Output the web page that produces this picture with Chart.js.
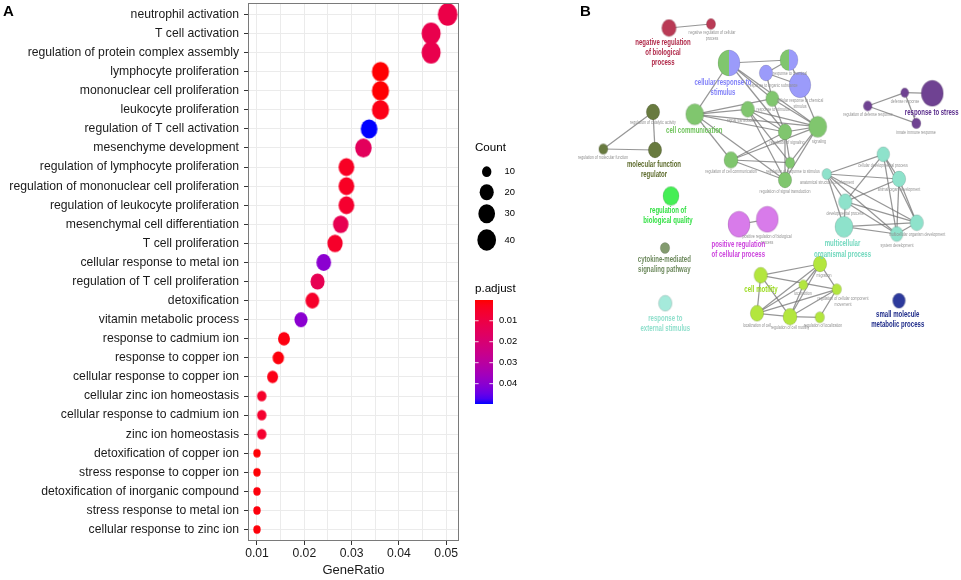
<!DOCTYPE html>
<html><head><meta charset="utf-8">
<script src="https://cdn.jsdelivr.net/npm/chart.js@4.4.1/dist/chart.umd.min.js"></script>
<style>
html,body{margin:0;padding:0;background:#fff;width:961px;height:580px;overflow:hidden;}
#wa{position:absolute;left:0;top:0;width:560px;height:580px;}
#wb{position:absolute;left:560px;top:0;width:401px;height:350px;}
</style></head><body>
<div id="wa"><canvas id="ca"></canvas></div>
<div id="wb"><canvas id="cb"></canvas></div>
<script>
// ---------------- Panel A data ----------------
const categories = [
 "neutrophil activation","T cell activation","regulation of protein complex assembly",
 "lymphocyte proliferation","mononuclear cell proliferation","leukocyte proliferation",
 "regulation of T cell activation","mesenchyme development","regulation of lymphocyte proliferation",
 "regulation of mononuclear cell proliferation","regulation of leukocyte proliferation",
 "mesenchymal cell differentiation","T cell proliferation","cellular response to metal ion",
 "regulation of T cell proliferation","detoxification","vitamin metabolic process",
 "response to cadmium ion","response to copper ion","cellular response to copper ion",
 "cellular zinc ion homeostasis","cellular response to cadmium ion","zinc ion homeostasis",
 "detoxification of copper ion","stress response to copper ion","detoxification of inorganic compound",
 "stress response to metal ion","cellular response to zinc ion"];
const geneRatio = [0.0503,0.0468,0.0468,0.0361,0.0361,0.0361,0.0337,0.0325,0.0289,0.0289,0.0289,0.0277,0.0265,0.0241,0.0228,0.0217,0.0193,0.0157,0.0145,0.0133,0.0110,0.0110,0.0110,0.0100,0.0100,0.0100,0.0100,0.0100];
const geneCount = [45,42,42,32,32,32,30,29,26,26,26,25,24,22,20,19,17,14,13,12,10,10,10,9,9,9,9,9];
const pAdjust = [0.011,0.012,0.012,0.0003,0.0003,0.002,0.0497,0.015,0.004,0.004,0.006,0.013,0.005,0.040,0.013,0.005,0.040,0.0015,0.001,0.002,0.005,0.006,0.006,0.0005,0.0005,0.001,0.001,0.0008];
const xTickValues = [0.01,0.02,0.03,0.04,0.05];
const countBreaks = [10,20,30,40];
const pBreaks = [0.01,0.02,0.03,0.04];

// ---------------- Panel B data (network layout coordinates) ----------------
const nodeX = [109,151,169,229,206,240,134.7,187.7,212.3,257.7,225,171,230,225,93,43.3,95,372.3,344.7,307.7,356.3,323.3,266.7,339,285.3,284,356.7,336.7,111,105,105.3,179,207.3,200.7,260,243.3,276.7,197,230,259.7,339];
const nodeY = [28,24,63,60,73,85,114.3,109.3,98.7,126.7,132,160,162.7,180,112,149,150,93.3,92.7,106,123.3,154.3,174,179,201.7,226.7,222.7,234,196,248,303.3,224.3,219.3,275.3,264,285,289.3,313.3,316.7,317.3,300.7];
const nodeSize = [7.2,4.6,11,9,6.7,10.8,9,6.7,6.5,9,6.7,7,4.7,6.7,6.7,4.5,6.7,11,4,4.3,4.5,6.3,4.7,6.7,6.7,9,6.7,6.3,8,4.7,6.7,11,11,6.7,6.7,4.3,4.7,6.7,7,4.7,6.3];
const nodeGroup = [0,0,1,1,2,2,3,3,3,3,3,3,3,3,4,4,4,5,5,5,5,6,6,6,6,6,6,6,7,8,9,10,10,11,11,11,11,11,11,11,12];
const edges = [[0,1],
 [2,3],[2,6],[2,8],[2,9],[2,10],[3,4],[3,5],[4,5],[4,8],[5,9],
 [6,7],[6,8],[6,9],[6,10],[6,11],[6,13],[7,9],[7,10],[7,13],[7,12],[8,9],[8,10],
 [9,10],[9,11],[9,12],[9,13],[10,11],[10,13],[10,12],[11,12],[11,13],[12,13],
 [14,15],[15,16],[14,16],
 [19,18],[18,17],[18,20],[19,20],
 [22,21],[22,23],[22,24],[22,25],[22,26],[22,27],[21,24],[21,23],[21,26],[21,27],[23,24],[23,26],[23,27],[24,26],[24,27],[24,25],[25,27],[25,26],[26,27],
 [31,32],
 [33,34],[33,36],[33,37],[33,38],[34,37],[34,38],[34,35],[34,36],[35,37],[35,38],[36,37],[36,39],[36,38],[37,38],[38,39]];
const groupFill = ["#B93A55",null,"#9B9BFA","#80C66E","#687A3F","#6F4292","#8EE2CB","#45EE55","#839B6F","#A5EADB","#D87BEA","#B3E63E","#2D3A9C"];
const groupText = ["#B02A4A","#8080F8","#8080F8","#6EC35A","#5D6B2C","#5B2D8C","#72D8BE","#33E044","#6E8A5E","#8FDFCC","#CC44DD","#9ADB1E","#1F2C8A"];
const groupLabelLines = [["negative regulation","of biological","process"],null,["cellular response to","stimulus"],["cell communication"],["molecular function","regulator"],["response to stress"],["multicellular","organismal process"],["regulation of","biological quality"],["cytokine-mediated","signaling pathway"],["response to","external stimulus"],["positive regulation","of cellular process"],["cell motility"],["small molecule","metabolic process"]];
const groupLabelX = [103,null,163,134.3,94,371.7,282.5,108,104.3,105.3,178.3,201,337.7];
const groupLabelY = [42,null,82,130.7,164,112.7,243.7,210,259,318,244,289.3,314];
const nodeLabels = [
 ["negative regulation of cellular",152,33],["process",152,39],["response to chemical",230,74],
 ["response to organic substance",213,86],["cellular response to chemical",240,101],["stimulus",240,107],
 ["response to stimulus",213,110],["signal transduction",182,121],["signaling",259,142],
 ["regulation of signaling",227,143],["regulation of cell communication",171,171.7],
 ["regulation of response to stimulus",233,171.7],["regulation of signal transduction",225,192],
 ["regulation of catalytic activity",93,123],["regulation of molecular function",43,157.3],
 ["defense response",345,101.3],["regulation of defense response",308,115],["innate immune response",356,132.3],
 ["cellular developmental process",323,166],["anatomical structure development",267,182.3],
 ["animal organ development",339,190],["developmental process",285,213.3],
 ["multicellular organism development",357,234.3],["system development",337,245.3],
 ["positive regulation of biological",207,236.7],["process",207,243],["migration",264,276],
 ["locomotion",243,294],["regulation of cellular component",283,298.3],["movement",283,304.7],
 ["localization of cell",197,325.7],["regulation of cell motility",230,327.3],["regulation of localization",263,326]];

// ---------------- helpers ----------------
const FONT = "'Liberation Sans', Arial, sans-serif";
function lin(c){c/=255;return c<=0.04045?c/12.92:Math.pow((c+0.055)/1.055,2.4);}
function unlin(v){const s=v<=0.0031308?12.92*v:1.055*Math.pow(v,1/2.4)-0.055;return Math.round(Math.max(0,Math.min(1,s))*255);}
function rgb2lab(r,g,b){
  const R=lin(r),G=lin(g),B=lin(b);
  const X=(0.4124*R+0.3576*G+0.1805*B)/0.95047,Y=(0.2126*R+0.7152*G+0.0722*B),Z=(0.0193*R+0.1192*G+0.9505*B)/1.08883;
  const f=t=>t>0.008856?Math.cbrt(t):7.787*t+16/116;
  return [116*f(Y)-16,500*(f(X)-f(Y)),200*(f(Y)-f(Z))];
}
function lab2rgb(L,a,b){
  const fy=(L+16)/116,fx=fy+a/500,fz=fy-b/200;
  const fi=t=>t*t*t>0.008856?t*t*t:(t-16/116)/7.787;
  const X=0.95047*fi(fx),Y=fi(fy),Z=1.08883*fi(fz);
  const R=3.2406*X-1.5372*Y-0.4986*Z,G=-0.9689*X+1.8758*Y+0.0415*Z,B=0.0557*X-0.2040*Y+1.0570*Z;
  return `rgb(${unlin(R)},${unlin(G)},${unlin(B)})`;
}
const LOW=rgb2lab(255,0,0),HIGH=rgb2lab(0,0,255);
const pMin=Math.min(...pAdjust)-0.0002, pMax=Math.max(...pAdjust);
function pColor(p){const t=Math.max(0,Math.min(1,(p-pMin)/(pMax-pMin)));return lab2rgb(LOW[0]+(HIGH[0]-LOW[0])*t,LOW[1]+(HIGH[1]-LOW[1])*t,LOW[2]+(HIGH[2]-LOW[2])*t);}
const cMin=Math.min(...geneCount), cMax=Math.max(...geneCount);
function sizeOf(c){return 3+5*Math.sqrt(Math.max(0,(c-cMin)/(cMax-cMin)));}
const SX=2.45, SY=2.8;
function ellipseCanvas(w,h,fill,stroke,lw){
  const c=document.createElement('canvas');c.width=Math.ceil(w+2);c.height=Math.ceil(h+2);
  const g=c.getContext('2d');g.beginPath();g.ellipse(c.width/2,c.height/2,w/2,h/2,0,0,Math.PI*2);
  g.fillStyle=fill;g.fill();if(stroke){g.lineWidth=lw;g.strokeStyle=stroke;g.stroke();}
  return c;
}
function pieCanvas(w,h,c1,c2){
  const c=document.createElement('canvas');c.width=Math.ceil(w+2);c.height=Math.ceil(h+2);
  const g=c.getContext('2d');const cx=c.width/2,cy=c.height/2;
  g.beginPath();g.moveTo(cx,cy);g.ellipse(cx,cy,w/2,h/2,0,Math.PI/2,Math.PI*1.5);g.closePath();g.fillStyle=c1;g.fill();
  g.beginPath();g.moveTo(cx,cy);g.ellipse(cx,cy,w/2,h/2,0,-Math.PI/2,Math.PI/2);g.closePath();g.fillStyle=c2;g.fill();
  g.beginPath();g.ellipse(cx,cy,w/2,h/2,0,0,Math.PI*2);g.lineWidth=0.7;g.strokeStyle='rgba(0,0,0,0.15)';g.stroke();
  return c;
}
function squishText(ctx,text,x,y,font,color,sx,align){
  ctx.save();ctx.translate(x,y);ctx.scale(sx,1);ctx.font=font;ctx.fillStyle=color;
  ctx.textAlign=align||'center';ctx.textBaseline='middle';ctx.fillText(text,0,0);ctx.restore();
}

// ---------------- Panel A chart ----------------
const xGridValues=[];
xTickValues.forEach((v,i)=>{xGridValues.push(v);if(i<xTickValues.length-1)xGridValues.push((v+xTickValues[i+1])/2);});
const dotStyles=geneCount.map((c,i)=>ellipseCanvas(sizeOf(c)*SX,sizeOf(c)*SY,pColor(pAdjust[i])));

const frameAndLegend={
  id:'frameAndLegend',
  afterDraw(chart){
    const ctx=chart.ctx,a=chart.chartArea;
    ctx.save();
    ctx.strokeStyle='#7a7a7a';ctx.lineWidth=1;
    ctx.strokeRect(Math.round(a.left)+0.5,Math.round(a.top)+0.5,Math.round(a.right-a.left)-1,Math.round(a.bottom-a.top)-1);
    // panel letter
    ctx.fillStyle='#000';ctx.font=`bold 15px ${FONT}`;ctx.textAlign='left';ctx.textBaseline='alphabetic';
    ctx.fillText('A',3,16);
    // Count legend
    ctx.font=`11.6px ${FONT}`;ctx.textBaseline='middle';ctx.fillStyle='#000';
    ctx.fillText('Count',475,148);
    const keyY=[171.7,192.3,213.7,240];
    countBreaks.forEach((c,i)=>{
      const s=sizeOf(c);
      ctx.beginPath();ctx.ellipse(486.7,keyY[i],s*SX/2,s*SY/2,0,0,Math.PI*2);ctx.fillStyle='#000';ctx.fill();
      ctx.font=`9.4px ${FONT}`;ctx.fillText(String(c),504.5,keyY[i]);
    });
    // p.adjust colorbar
    ctx.font=`11.6px ${FONT}`;ctx.fillText('p.adjust',475,289);
    const bx=475,by=300,bw=18,bh=104;
    const grad=ctx.createLinearGradient(0,by,0,by+bh);
    for(let k=0;k<=20;k++){const p=pMin+(pMax-pMin)*k/20;grad.addColorStop(k/20,pColor(p));}
    ctx.fillStyle=grad;ctx.fillRect(bx,by,bw,bh);
    ctx.strokeStyle='rgba(255,255,255,0.85)';ctx.lineWidth=1;
    pBreaks.forEach(p=>{
      const y=by+(p-pMin)/(pMax-pMin)*bh;
      ctx.beginPath();ctx.moveTo(bx,y);ctx.lineTo(bx+3.6,y);ctx.moveTo(bx+bw-3.6,y);ctx.lineTo(bx+bw,y);ctx.stroke();
      ctx.fillStyle='#000';ctx.font=`9.4px ${FONT}`;ctx.fillText(p.toFixed(2),499,y);
    });
    ctx.restore();
  }
};

new Chart(document.getElementById('ca'),{
  type:'scatter',
  data:{datasets:[{
    data:categories.map((c,i)=>({x:geneRatio[i],y:i})),
    pointStyle:dotStyles,pointRadius:8,pointHoverRadius:8
  }]},
  options:{
    responsive:true,maintainAspectRatio:false,animation:false,
    layout:{autoPadding:false,padding:{left:0,top:3,right:101,bottom:0}},
    plugins:{legend:{display:false},tooltip:{enabled:false}},
    scales:{
      x:{type:'linear',min:0.0081,max:0.0527,
        afterBuildTicks:s=>{s.ticks=xGridValues.map(v=>({value:v}));},
        afterFit:s=>{s.height=39;s.paddingLeft=0;s.paddingRight=0;},
        ticks:{autoSkip:false,maxRotation:0,padding:1,color:'#1a1a1a',font:{family:FONT,size:12.2},
          callback:(v,i)=>i%2===0?Number(v).toFixed(2):''},
        grid:{color:'#EBEBEB',lineWidth:1,tickLength:4,tickWidth:1,
          tickColor:c=>c.index%2===0?'#333':'rgba(0,0,0,0)'},
        border:{display:false},
        title:{display:true,text:'GeneRatio',color:'#1a1a1a',font:{family:FONT,size:13},padding:{top:0,bottom:2}}
      },
      y:{type:'linear',reverse:true,min:-0.6,max:categories.length-0.4,
        afterBuildTicks:s=>{s.ticks=categories.map((c,i)=>({value:i}));},
        afterFit:s=>{s.width=248;s.paddingTop=0;s.paddingBottom=0;},
        ticks:{autoSkip:false,padding:5,color:'#1a1a1a',font:{family:FONT,size:12.2},
          callback:v=>categories[v]},
        grid:{color:'#EBEBEB',lineWidth:1,tickLength:4,tickWidth:1,tickColor:'#333'},
        border:{display:false}
      }
    }
  },
  plugins:[frameAndLegend]
});

// ---------------- Panel B chart ----------------
const nodeStyles=nodeX.map((x,i)=>{
  const w=nodeSize[i]*2,h=nodeSize[i]*2*1.18,g=nodeGroup[i];
  if(g===1)return pieCanvas(w,h,groupFill[3],groupFill[2]);
  return ellipseCanvas(w,h,groupFill[g],'rgba(0,0,0,0.18)',0.7);
});
const edgeSets=edges.map(([a,b])=>({
  type:'line',order:1,
  data:[{x:nodeX[a],y:nodeY[a]},{x:nodeX[b],y:nodeY[b]}],
  borderColor:'rgba(110,110,110,0.72)',borderWidth:1.25,pointRadius:0,fill:false,tension:0
}));
const netLabels={
  id:'netLabels',
  afterDatasetsDraw(chart){
    const ctx=chart.ctx,sx=chart.scales.x,sy=chart.scales.y;
    nodeLabels.forEach(([t,x,y])=>squishText(ctx,t,sx.getPixelForValue(x),sy.getPixelForValue(y),`5px ${FONT}`,'#8f8f8f',0.72));
    groupLabelLines.forEach((lines,g)=>{
      if(!lines)return;
      lines.forEach((t,k)=>squishText(ctx,t,sx.getPixelForValue(groupLabelX[g]),sy.getPixelForValue(groupLabelY[g]+k*10.3),`bold 9.6px ${FONT}`,groupText[g],0.63));
    });
    ctx.save();ctx.fillStyle='#000';ctx.font=`bold 15px ${FONT}`;ctx.textAlign='left';ctx.textBaseline='alphabetic';
    ctx.fillText('B',20,15.5);ctx.restore();
  }
};
new Chart(document.getElementById('cb'),{
  type:'scatter',
  data:{datasets:[{type:'scatter',order:0,data:nodeX.map((x,i)=>({x:x,y:nodeY[i]})),pointStyle:nodeStyles,pointRadius:6,pointHoverRadius:6}].concat(edgeSets)},
  options:{
    responsive:true,maintainAspectRatio:false,animation:false,
    layout:{autoPadding:false,padding:0},
    plugins:{legend:{display:false},tooltip:{enabled:false}},
    scales:{x:{type:'linear',min:0,max:401,display:false},y:{type:'linear',min:0,max:350,reverse:true,display:false}}
  },
  plugins:[netLabels]
});
</script>
</body></html>
